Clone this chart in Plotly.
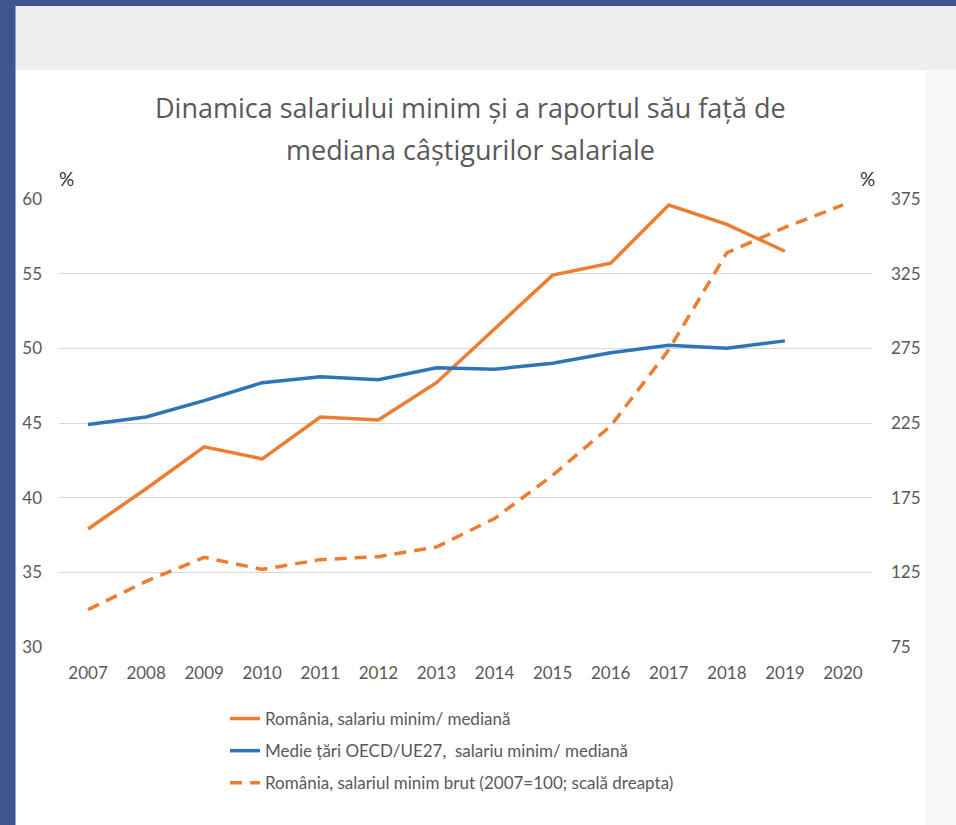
import plotly.graph_objects as go

years = [str(y) for y in range(2007, 2021)]
years_ratio = [str(y) for y in range(2007, 2020)]

romania_ratio = [37.9, 40.6, 43.4, 42.6, 45.4, 45.2, 47.7, 51.3, 54.9, 55.7, 59.6, 58.3, 56.5]
oecd_ratio = [44.9, 45.4, 46.5, 47.7, 48.1, 47.9, 48.7, 48.6, 49.0, 49.7, 50.2, 50.0, 50.5]
romania_min_wage_index = [100, 119, 135, 127, 133.5, 135.5, 142, 161, 190, 223, 274, 339, 356, 371]

names = [
    "România, salariu minim/ mediană",
    "Medie țări OECD/UE27,  salariu minim/ mediană",
    "România, salariul minim brut (2007=100; scală dreapta)",
]

ORANGE = "#ED7D31"
BLUE = "#2E75B6"
FONT = "Lato"
GRAY = "#595959"

fig = go.Figure()
fig.add_trace(go.Scatter(x=years_ratio, y=romania_ratio, mode="lines", name=names[0],
                         line=dict(color=ORANGE, width=3.5), legendgroup="a"))
fig.add_trace(go.Scatter(x=years_ratio, y=oecd_ratio, mode="lines", name=names[1],
                         line=dict(color=BLUE, width=3.5), legendgroup="b"))
fig.add_trace(go.Scatter(x=years, y=romania_min_wage_index, mode="lines", name=names[2],
                         line=dict(color=ORANGE, width=3.5, dash="12px,8px"), yaxis="y2",
                         legendgroup="c"))

L, R, T, B = 59, 84, 199, 178
W, H = 956, 825
pw, ph = W - L - R, H - T - B

def px(xp):
    return (xp - L) / pw

def py(yp):
    return (H - B - yp) / ph

shapes = [
    dict(type="rect", xref="paper", yref="paper", x0=px(15), x1=px(925), y0=py(825), y1=py(70),
         fillcolor="white", line_width=0, layer="below"),
    dict(type="rect", xref="paper", yref="paper", x0=px(15), x1=px(956), y0=py(70), y1=py(6),
         fillcolor="#EFEFEF", line_width=0, layer="below"),
    dict(type="rect", xref="paper", yref="paper", x0=px(0), x1=px(15.5), y0=py(825), y1=py(0),
         fillcolor="#3F558F", line_width=0, layer="below"),
    dict(type="rect", xref="paper", yref="paper", x0=px(0), x1=px(956), y0=py(6), y1=py(0),
         fillcolor="#3F558F", line_width=0, layer="below"),
]

TFONT = dict(family="Open Sans", size=27, color=GRAY)
annotations = [
    dict(text="Dinamica salariului minim și a raportul său față de", xref="paper", yref="paper",
         x=px(470), y=py(107), showarrow=False, font=TFONT, xanchor="center", yanchor="middle"),
    dict(text="mediana câștigurilor salariale", xref="paper", yref="paper",
         x=px(470), y=py(149), showarrow=False, font=TFONT, xanchor="center", yanchor="middle"),
    dict(text="%", xref="paper", yref="paper", x=px(66), y=py(178), showarrow=False,
         font=dict(family=FONT, size=19, color="#333333"), xanchor="center", yanchor="middle"),
    dict(text="%", xref="paper", yref="paper", x=px(867), y=py(178), showarrow=False,
         font=dict(family=FONT, size=19, color="#333333"), xanchor="center", yanchor="middle"),
]

fig.update_layout(
    width=W, height=H,
    margin=dict(l=L, r=R, t=T, b=B),
    paper_bgcolor="#F8F8F8",
    plot_bgcolor="white",
    font=dict(family=FONT, color=GRAY, size=17),
    shapes=shapes,
    annotations=annotations,
    showlegend=True,
    legend=dict(x=px(225), y=py(701), xanchor="left", yanchor="top",
                bgcolor="rgba(0,0,0,0)", font=dict(family=FONT, size=17, color=GRAY),
                traceorder="grouped", tracegroupgap=7),
    xaxis=dict(type="category", range=[-0.5, 13.5], showgrid=False, showline=False, ticks="",
               tickfont=dict(family=FONT, size=17, color=GRAY), ticklabelstandoff=14,
               zeroline=False),
    yaxis=dict(range=[30, 60], dtick=5, tick0=30, showgrid=True, gridcolor="#D9D9D9", gridwidth=1,
               showline=False, ticks="", zeroline=False,
               tickfont=dict(family=FONT, size=17, color=GRAY), ticklabelstandoff=16),
    yaxis2=dict(range=[75, 375], dtick=50, tick0=75, overlaying="y", side="right", showgrid=False,
                showline=False, ticks="", zeroline=False,
                tickfont=dict(family=FONT, size=17, color=GRAY), ticklabelstandoff=18),
)

fig.write_html("out.html", config={"displayModeBar": False},
               post_script="document.body.style.margin='0';document.body.style.overflow='hidden';")
